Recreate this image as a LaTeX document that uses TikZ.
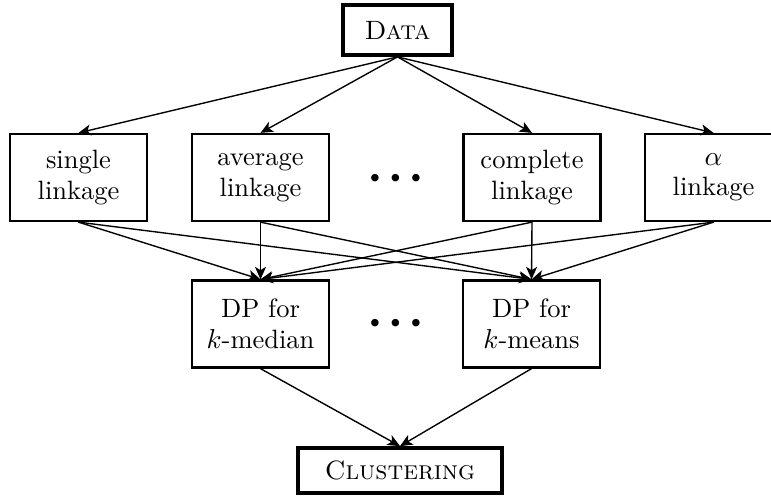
\documentclass[tikz,border=0pt]{standalone}
\usetikzlibrary{arrows.meta}
\begin{document}
\begin{tikzpicture}[x=0.4pt,y=-0.4pt,
  box/.style={draw, line width=0.9pt, minimum width=54.8pt, minimum height=34.8pt,
    inner sep=0pt, align=center, font=\fontsize{10.6}{12.2}\selectfont},
  endbox/.style={draw, line width=1.5pt, inner sep=0pt, font=\fontsize{10.6}{12}\selectfont},
  dotsnode/.style={inner sep=0pt, font=\fontsize{7.4}{8}\selectfont},
  arr/.style={-{Stealth[length=5pt,width=4.4pt,inset=1.3pt]}, line width=0.55pt},
]
\useasboundingbox (0,0) rectangle (771,495);
\node[endbox, minimum width=43.6pt, minimum height=20pt] (data) at (397.5,30) {\textsc{Data}};
\node[box] (single) at (78.5,177.5) {single\\linkage};
\node[box] (average) at (260.5,177.5) {average\\linkage};
\node[box] (complete) at (532,177.5) {complete\\linkage};
\node[box] (alpha) at (713.5,177.5) {$\alpha$\\linkage};
\node[dotsnode] (dotsa) at (395.5,178) {$\bullet\;\bullet\;\bullet$};
\node[box] (median) at (260.5,324) {DP for\\$k$-median};
\node[box] (means) at (531.5,324) {DP for\\$k$-means};
\node[dotsnode] (dotsb) at (395.5,323) {$\bullet\;\bullet\;\bullet$};
\node[endbox, minimum width=81.6pt, minimum height=18pt] (clus) at (400,470.5) {\textsc{Clustering}};
\foreach \t in {single,average,complete,alpha}
  \draw[arr] (data.south) -- (\t.north);
\foreach \s in {single,average,complete,alpha}
  \foreach \t in {median,means}
    \draw[arr] (\s.south) -- (\t.north);
\draw[arr] (median.south) -- (clus.north);
\draw[arr] (means.south) -- (clus.north);
\end{tikzpicture}
\end{document}
